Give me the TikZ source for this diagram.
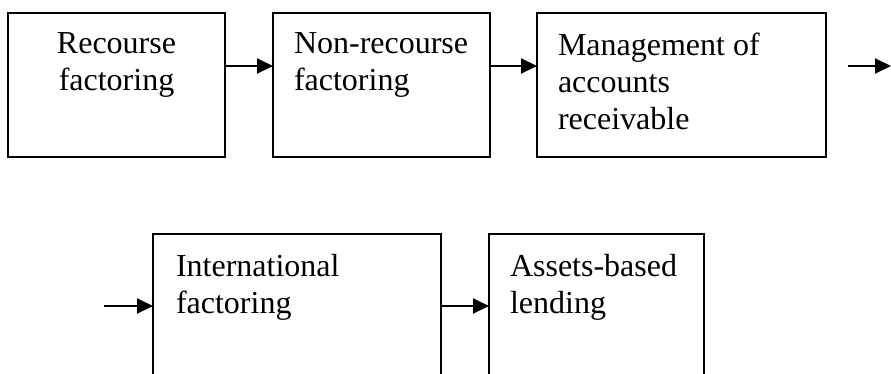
\documentclass[tikz,border=0pt]{standalone}
\usepackage{fontspec}
\setmainfont{Liberation Serif}
\usetikzlibrary{arrows.meta, positioning}

\tikzset{
  box/.style = {draw, line width=2pt, minimum width=#1, minimum height=144pt, inner sep=0pt, outer sep=0pt, anchor=north west},
  txt/.style = {font=\fontsize{32}{37}\selectfont, inner sep=0pt, align=left, anchor=north west},
  >={Triangle[length=16pt, width=15pt]}
}

\begin{document}
\begin{tikzpicture}[x=1pt, y=-1pt, line width=2pt]
\clip (0,0) rectangle (891,374);
% first row
\node[box=217pt] (rf) at (8,13) {};
\node[box=217pt, right=48pt of rf] (nrf) {};
\node[box=289pt, right=47pt of nrf] (mar) {};
\coordinate (out1) at (848,66);
\coordinate (out2) at (891,66);
% second row
\node[box=288pt] (ifac) at (153,234) {};
\node[box=215pt, right=48pt of ifac] (abl) {};
\coordinate (in) at (104,306);

\node[txt, align=center, anchor=north] (rft) at ([yshift=-19pt]rf.north) {Recourse\\factoring};
\node[txt] (nrft) at ([xshift=20pt, yshift=-19pt]nrf.north west) {Non-recourse\\factoring};
\node[txt] (mart) at ([xshift=20pt, yshift=-19pt]mar.north west) {Management of\\accounts\\receivable};
\node[txt] (ifact) at ([xshift=22pt, yshift=-19pt]ifac.north west) {International\\factoring};
\node[txt] (ablt) at ([xshift=20pt, yshift=-19pt]abl.north west) {Assets-based\\lending};

\draw [->] ([yshift=19pt]rf.east) -- ([yshift=19pt]nrf.west);
\draw [->] ([yshift=19pt]nrf.east) -- ([yshift=19pt]mar.west);
\draw [->] (out1) -- (out2);
\draw [->] (in) -- (in -| ifac.west);
\draw [->] (ifac.east) -- (abl.west);
\end{tikzpicture}
\end{document}
